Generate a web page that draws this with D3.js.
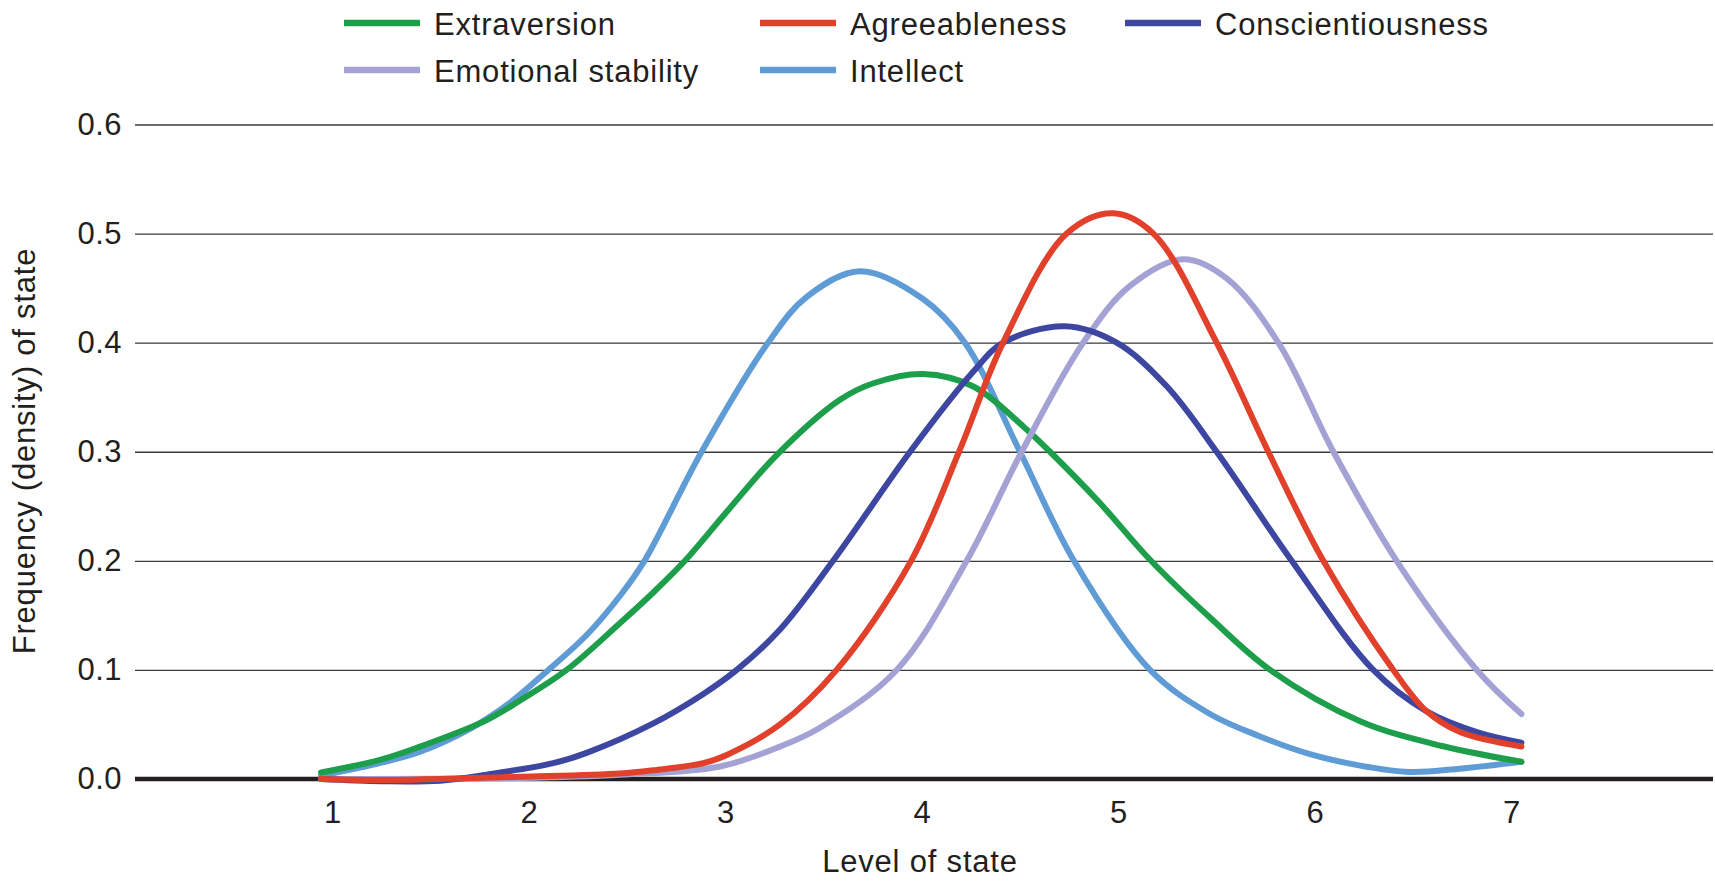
<!DOCTYPE html>
<html lang="en">
<head>
<meta charset="UTF-8">
<title>Density of personality states</title>
<script src="https://d3js.org/d3.v7.min.js"></script>
<style>
    html, body { margin: 0; padding: 0; background: #fff; }
    svg text { font-family: "Liberation Sans", Arial, Helvetica, sans-serif; fill: #231f20; }
</style>
</head>
<body>
<svg width="1715" height="885"></svg>
<script>
    // [level of state, density]
    const extraversion = [[0.944, 0.006], [1.253, 0.018], [1.448, 0.0297], [1.787, 0.054], [1.957, 0.072],
        [2.194, 0.1], [2.466, 0.143], [2.635, 0.171], [2.796, 0.2], [3.009, 0.245], [3.263, 0.297],
        [3.585, 0.3476], [3.755, 0.3628], [4.008, 0.3713], [4.264, 0.3598], [4.518, 0.3232], [4.654, 0.3],
        [4.908, 0.253], [5.163, 0.201], [5.468, 0.148], [5.774, 0.1], [6.232, 0.053], [6.655, 0.030],
        [7.053, 0.0158]];

    const agreeableness = [[0.944, 0.0], [1.253, -0.001], [1.957, 0.002], [2.466, 0.005], [2.635, 0.008],
        [2.890, 0.0145], [3.009, 0.022], [3.280, 0.050], [3.568, 0.1], [3.947, 0.2],
        [4.191, 0.3], [4.415, 0.4], [4.739, 0.5], [4.976, 0.5186], [5.180, 0.5], [5.502, 0.4],
        [5.765, 0.3], [6.045, 0.2], [6.401, 0.1], [6.571, 0.062], [6.740, 0.043], [7.053, 0.0298]];

    const conscientiousness = [[0.944, 0.0], [1.253, -0.002], [1.550, -0.0015], [1.787, 0.004], [2.126, 0.0145],
        [2.296, 0.024], [2.635, 0.051], [2.890, 0.078], [3.060, 0.100], [3.280, 0.137], [3.550, 0.2],
        [3.942, 0.3], [4.264, 0.3735], [4.415, 0.4], [4.730, 0.415], [4.993, 0.4], [5.248, 0.360],
        [5.502, 0.3], [5.884, 0.2], [6.299, 0.1], [6.571, 0.062], [6.826, 0.043], [7.053, 0.0333]];

    const emotionalStability = [[0.944, 0.0], [1.957, 0.001], [2.466, 0.004], [2.975, 0.0115], [3.280, 0.0297],
        [3.483, 0.047], [3.874, 0.1], [4.230, 0.2], [4.510, 0.3], [4.823, 0.4], [5.061, 0.452],
        [5.332, 0.4765], [5.553, 0.459], [5.816, 0.4], [6.096, 0.3], [6.418, 0.2], [6.826, 0.1],
        [7.053, 0.0596]];

    const intellect = [[0.944, 0.003], [1.253, 0.015], [1.448, 0.025], [1.702, 0.046], [1.906, 0.070],
        [2.101, 0.1], [2.296, 0.132], [2.466, 0.168], [2.590, 0.2], [2.881, 0.3], [3.219, 0.4],
        [3.416, 0.442], [3.687, 0.4655], [4.008, 0.440], [4.221, 0.4], [4.501, 0.3], [4.776, 0.2],
        [5.163, 0.1], [5.468, 0.0596], [5.723, 0.039], [5.977, 0.0228], [6.232, 0.0123], [6.486, 0.0065],
        [6.740, 0.0095], [7.053, 0.0158]];

    const xTicks = [1, 2, 3, 4, 5, 6, 7];
    const yTicks = [0, 0.1, 0.2, 0.3, 0.4, 0.5, 0.6];

    const series = [
        {name: "Extraversion", values: extraversion, color: "#1c9e4a"},
        {name: "Agreeableness", values: agreeableness, color: "#e1412a"},
        {name: "Conscientiousness", values: conscientiousness, color: "#3d46a1"},
        {name: "Emotional stability", values: emotionalStability, color: "#a4a2d4"},
        {name: "Intellect", values: intellect, color: "#5f9cd6"}
    ];
    // drawing order (last on top)
    const drawOrder = ["Intellect", "Extraversion", "Emotional stability", "Conscientiousness", "Agreeableness"];

    const svg = d3.select("svg");
    const plotLeft = 135, plotRight = 1713, plotTop = 124.5, plotBottom = 779;

    const x = d3.scaleLinear().domain([1, 7]).range([332, 1511]);
    const y = d3.scaleLinear().domain([0, 0.6]).range([plotBottom, plotTop]);

    // gridlines
    svg.append("g")
        .attr("transform", `translate(${plotLeft},0)`)
        .call(d3.axisLeft(y).tickValues(yTicks.slice(1)).tickSize(-(plotRight - plotLeft)).tickFormat(""))
        .call(g => g.select(".domain").remove())
        .call(g => g.selectAll("line").attr("stroke", "#3a3a3a").attr("stroke-width", 1.3));

    // y tick labels
    svg.append("g")
        .attr("transform", `translate(${plotLeft},0)`)
        .call(d3.axisLeft(y).tickValues(yTicks).tickSize(0).tickPadding(13).tickFormat(d3.format(".1f")))
        .call(g => g.select(".domain").remove())
        .call(g => g.selectAll("text").attr("font-size", 31).attr("font-family", null).style("letter-spacing", "0.5px"));

    // x tick labels
    svg.append("g")
        .attr("transform", `translate(0,${plotBottom})`)
        .call(d3.axisBottom(x).tickValues(xTicks).tickSize(0).tickPadding(22).tickFormat(d3.format("d")))
        .call(g => g.select(".domain").remove())
        .call(g => g.selectAll("text").attr("font-size", 31).attr("font-family", null));

    // zero line
    svg.append("line")
        .attr("x1", plotLeft).attr("x2", plotRight)
        .attr("y1", y(0)).attr("y2", y(0))
        .attr("stroke", "#231f20").attr("stroke-width", 4.5);

    // curves
    const line = d3.line()
        .x(d => x(d[0]))
        .y(d => y(d[1]))
        .curve(d3.curveCatmullRom.alpha(0.5));

    svg.append("g").attr("class", "curves")
        .selectAll("path")
        .data(drawOrder.map(n => series.find(s => s.name === n)))
        .join("path")
        .attr("d", d => line(d.values))
        .attr("fill", "none")
        .attr("stroke", d => d.color)
        .attr("stroke-width", 6)
        .attr("stroke-linecap", "round")
        .attr("stroke-linejoin", "round");

    // legend: three columns, two rows
    const legendX = [344, 760, 1125];
    const legendY = [23, 70];
    const legend = svg.append("g").attr("class", "legend")
        .selectAll("g")
        .data(series)
        .join("g")
        .attr("transform", (d, i) => `translate(${legendX[i % 3]},${legendY[Math.floor(i / 3)]})`);

    legend.append("line")
        .attr("x1", 0).attr("x2", 76)
        .attr("stroke", d => d.color)
        .attr("stroke-width", 6.5);

    legend.append("text")
        .attr("x", 90)
        .attr("y", 11.5)
        .attr("font-size", 31)
        .style("letter-spacing", "0.8px")
        .text(d => d.name);

    // axis titles
    svg.append("text")
        .attr("x", 920).attr("y", 872)
        .attr("text-anchor", "middle")
        .attr("font-size", 31)
        .style("letter-spacing", "0.8px")
        .text("Level of state");

    svg.append("text")
        .attr("transform", "translate(35,451) rotate(-90)")
        .attr("text-anchor", "middle")
        .attr("font-size", 31)
        .style("letter-spacing", "0.8px")
        .text("Frequency (density) of state");
</script>
</body>
</html>
